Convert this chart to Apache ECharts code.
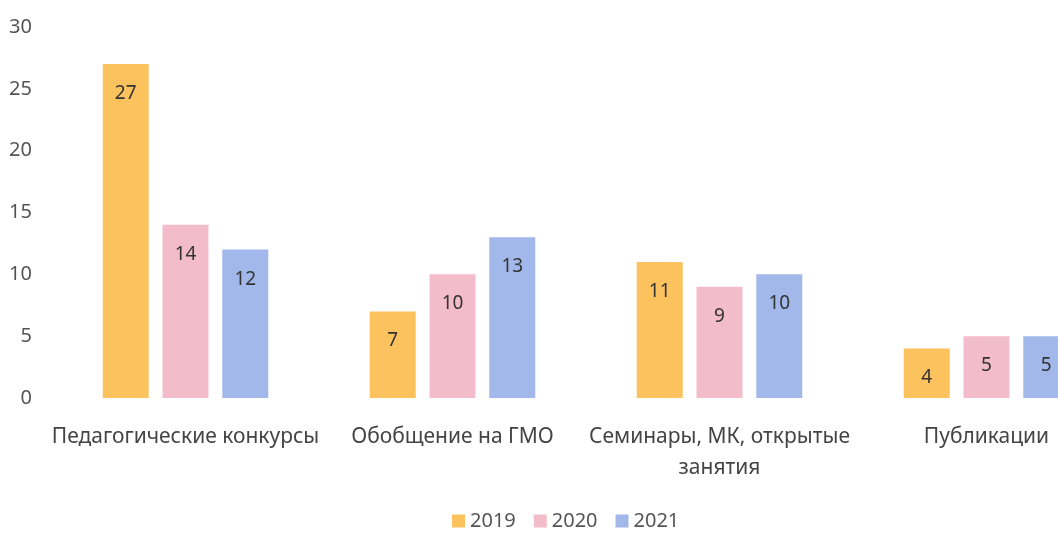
<!DOCTYPE html>
<html>
<head>
<meta charset="utf-8">
<script src="https://cdn.jsdelivr.net/npm/echarts@6/dist/echarts.min.js"></script>
<style>
  html, body { margin: 0; padding: 0; background: #fff; overflow: hidden; }
  /* the scan cuts the last group off, so the canvas is wider than the window */
  #chart { width: 1120px; height: 533px; }
</style>
</head>
<body>
<div id="chart"></div>
<script>
let categories = ['Педагогические конкурсы', 'Обобщение на ГМО', 'Семинары, МК, открытые\nзанятия', 'Публикации']
let years = ['2019', '2020', '2021']
let values2019 = [27, 7, 11, 4]
let values2020 = [14, 10, 9, 5]
let values2021 = [12, 13, 10, 5]
let yTicks = [0, 5, 10, 15, 20, 25, 30]

let colors = ['#fcc25e', '#f3bccb', '#a2b7ea']
let font = 'Noto Sans'

let chart = echarts.init(document.getElementById('chart'))

// подписи внутри столбцов, у верхнего края
function makeSeries(name, data, color) {
  return {
    name: name,
    type: 'bar',
    data: data,
    barGap: '30%',
    barCategoryGap: '38%',
    itemStyle: { color: color },
    label: {
      show: true,
      position: 'insideTop',
      distance: 20,
      color: '#333',
      fontSize: 19,
      fontFamily: font
    }
  }
}

chart.setOption({
  animation: false,
  textStyle: { fontFamily: font },
  grid: { left: 52, right: 0, top: 27, bottom: 135, containLabel: false, outerBoundsMode: 'none' },
  legend: {
    bottom: -3,
    left: 447,
    itemWidth: 13,
    itemHeight: 13,
    itemGap: 18,
    icon: 'rect',
    textStyle: { fontSize: 20, color: '#555', fontFamily: font },
    data: years
  },
  xAxis: {
    type: 'category',
    data: categories,
    axisLine: { show: false },
    axisTick: { show: false },
    axisLabel: {
      margin: 24,
      fontSize: 21,
      lineHeight: 31,
      color: '#444',
      fontFamily: font,
      interval: 0
    }
  },
  yAxis: {
    type: 'value',
    min: yTicks[0],
    max: yTicks[yTicks.length - 1],
    interval: 5,
    splitLine: { show: false },
    axisLine: { show: false },
    axisLabel: {
      fontSize: 20,
      color: '#555',
      fontFamily: font,
      margin: 20
    }
  },
  series: [
    makeSeries(years[0], values2019, colors[0]),
    makeSeries(years[1], values2020, colors[1]),
    makeSeries(years[2], values2021, colors[2])
  ]
})
</script>
</body>
</html>
